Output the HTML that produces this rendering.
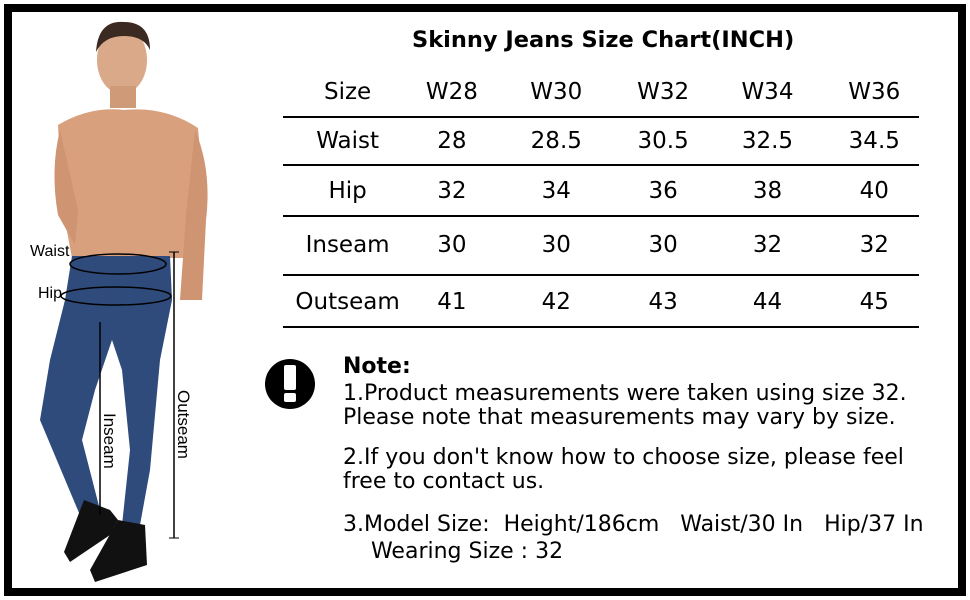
<!DOCTYPE html>
<html><head><meta charset="utf-8"><style>
body{margin:0;width:970px;height:600px;background:#fff;overflow:hidden;font-family:"DejaVu Sans","Liberation Sans",sans-serif;}
.frame{position:absolute;left:4px;top:4px;width:946px;height:576px;border:8px solid #000;}
.t{position:absolute;color:#000;white-space:nowrap}
.hl{position:absolute;left:283px;width:636px;height:2px;background:#000}
</style></head><body>
<div class="frame"></div>
<svg width="970" height="600" style="position:absolute;left:0;top:0">
<ellipse cx="122" cy="60" rx="25" ry="34" fill="#d9a98a"/>
<path d="M96 52 Q98 20 124 22 Q150 22 150 50 Q144 36 124 36 Q104 36 96 52Z" fill="#3a2a22"/>
<rect x="110" y="86" width="26" height="22" fill="#cf9a78"/>
<path d="M58 125 Q90 106 124 110 Q165 106 198 128 L205 205 L190 258 L72 258 L62 205Z" fill="#d9a07e"/>
<path d="M195 130 Q212 170 206 220 L202 300 L180 300 L186 215 Z" fill="#cf9472"/>
<path d="M60 130 Q50 170 58 215 L75 245 L78 210 Z" fill="#cf9472"/>
<path d="M72 256 L170 256 L172 300 L160 360 L150 470 L140 525 L122 525 L130 450 L122 370 L112 340 L95 390 L82 440 L100 510 L95 520 L82 520 L40 420 L50 360 L65 300Z" fill="#2f4b7c"/>
<path d="M84 500 L110 510 L118 520 L110 535 L70 562 L64 552 Z" fill="#111"/>
<path d="M118 520 L145 525 L147 565 L95 582 L90 570 Z" fill="#111"/>
<ellipse cx="118" cy="264" rx="48" ry="10" fill="none" stroke="#000" stroke-width="1.5"/>
<ellipse cx="116" cy="296" rx="55" ry="9" fill="none" stroke="#000" stroke-width="1.5"/>
<line x1="174" y1="252" x2="174" y2="538" stroke="#000" stroke-width="1.5"/>
<line x1="169" y1="252" x2="179" y2="252" stroke="#000"/>
<line x1="169" y1="538" x2="179" y2="538" stroke="#000"/>
<line x1="100" y1="322" x2="100" y2="515" stroke="#000" stroke-width="1.5"/>
<text x="30" y="256" font-family="Liberation Sans,sans-serif" font-size="16">Waist</text>
<text x="38" y="298" font-family="Liberation Sans,sans-serif" font-size="16">Hip</text>
<text transform="translate(104,413) rotate(90)" font-family="Liberation Sans,sans-serif" font-size="17">Inseam</text>
<text transform="translate(178,390) rotate(90)" font-family="Liberation Sans,sans-serif" font-size="17">Outseam</text>
<circle cx="290" cy="384" r="25" fill="#000"/>
<rect x="284" y="365" width="12" height="25" rx="2" fill="#fff"/>
<rect x="284" y="393" width="12" height="9" rx="2" fill="#fff"/>
</svg>
<div class="t" style="left:412px;top:27px;font-size:22.5px;font-weight:bold">Skinny Jeans Size Chart(INCH)</div>
<div class="hl" style="top:116px"></div>
<div class="hl" style="top:164px"></div>
<div class="hl" style="top:215px"></div>
<div class="hl" style="top:274px"></div>
<div class="hl" style="top:326px"></div>
<div style="position:absolute;left:283px;top:68px;width:636px;font-size:23px">
<div style="display:flex;height:48px;align-items:center"><span style="width:130px;text-align:center">Size</span><span style="width:80px;text-align:center">W28</span><span style="width:130px;text-align:center">W30</span><span style="width:85px;text-align:center">W32</span><span style="width:125px;text-align:center">W34</span><span style="width:90px;text-align:center">W36</span></div>
<div style="display:flex;height:48px;align-items:center;margin-top:1px"><span style="width:130px;text-align:center">Waist</span><span style="width:80px;text-align:center">28</span><span style="width:130px;text-align:center">28.5</span><span style="width:85px;text-align:center">30.5</span><span style="width:125px;text-align:center">32.5</span><span style="width:90px;text-align:center">34.5</span></div>
<div style="display:flex;height:52px;align-items:center"><span style="width:130px;text-align:center">Hip</span><span style="width:80px;text-align:center">32</span><span style="width:130px;text-align:center">34</span><span style="width:85px;text-align:center">36</span><span style="width:125px;text-align:center">38</span><span style="width:90px;text-align:center">40</span></div>
<div style="display:flex;height:56px;align-items:center"><span style="width:130px;text-align:center">Inseam</span><span style="width:80px;text-align:center">30</span><span style="width:130px;text-align:center">30</span><span style="width:85px;text-align:center">30</span><span style="width:125px;text-align:center">32</span><span style="width:90px;text-align:center">32</span></div>
<div style="display:flex;height:58px;align-items:center"><span style="width:130px;text-align:center">Outseam</span><span style="width:80px;text-align:center">41</span><span style="width:130px;text-align:center">42</span><span style="width:85px;text-align:center">43</span><span style="width:125px;text-align:center">44</span><span style="width:90px;text-align:center">45</span></div>
</div>
<div class="t" style="left:343px;top:354px;font-size:22px;font-weight:bold">Note:</div>
<div class="t" style="left:343px;top:382px;font-size:22px;line-height:24px">1.Product measurements were taken using size 32.<br>Please note that measurements may vary by size.</div>
<div class="t" style="left:343px;top:446px;font-size:22px;line-height:24px">2.If you don't know how to choose size, please feel<br>free to contact us.</div>
<div class="t" style="left:343px;top:511px;font-size:22px;line-height:27px">3.Model Size:&nbsp; Height/186cm&nbsp;&nbsp; Waist/30 In&nbsp;&nbsp; Hip/37 In<br>&nbsp;&nbsp;&nbsp;&nbsp;Wearing Size : 32</div>
</body></html>
